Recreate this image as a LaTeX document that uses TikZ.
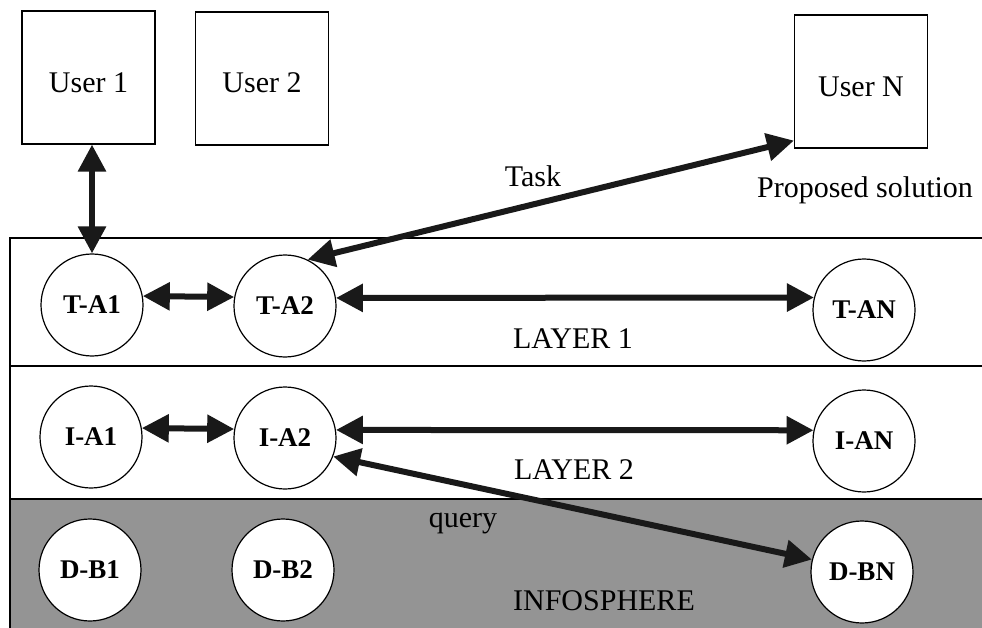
\documentclass[tikz,border=0pt]{standalone}
\usepackage{fontspec}
\setmainfont{Liberation Serif}
\usetikzlibrary{arrows.meta}
\begin{document}
\begin{tikzpicture}[x=1pt,y=-1pt,
  userbox/.style={draw, line width=1.2pt, minimum width=133pt, minimum height=133pt, inner sep=0pt},
  agent/.style={circle, draw, line width=1.2pt, fill=white, minimum size=102pt, inner sep=0pt,
                font=\fontsize{27}{27}\selectfont\bfseries},
  txt/.style={anchor=base, inner sep=0pt, font=\fontsize{30}{30}\selectfont},
  link/.style={line width=6pt, draw=black!90,
               {Triangle[length=27pt,width=27pt]}-{Triangle[length=27pt,width=27pt]}},
  band/.style={line width=1.2pt}
]
\useasboundingbox (0,0) rectangle (982,628);
\fill[white] (0,0) rectangle (982,628);

% infosphere background
\fill[black!42] (10,499) rectangle (982,628);

% layer bands
\draw[band] (982,238) -- (10,238) -- (10,628);
\draw[band] (10,366) -- (982,366);
\draw[band] (10,499) -- (982,499);

% users
\node[userbox] (u1) at (88.5,77.5) {};
\node[userbox] (u2) at (262,78.5) {};
\node[userbox] (un) at (861,81.5) {};
\node[txt] (u1t) at (88.5,93) {User 1};
\node[txt] (u2t) at (262,93) {User 2};
\node[txt] (unt) at (861,97) {User N};

% agents and databases
\node[agent] (ta1) at (92,305) {T-A1};
\node[agent] (ta2) at (285,306) {T-A2};
\node[agent] (tan) at (864,310) {T-AN};
\node[agent] (ia1) at (91,437) {I-A1};
\node[agent] (ia2) at (285,438) {I-A2};
\node[agent] (ian) at (864,441) {I-AN};
\node[agent] (db1) at (90,570) {D-B1};
\node[agent] (db2) at (283,570) {D-B2};
\node[agent] (dbn) at (862,572) {D-BN};

% labels
\node[txt] (task) at (533,187) {Task};
\node[txt] (prop) at (865,198) {Proposed solution};
\node[txt] (l1) at (573,348) {LAYER 1};
\node[txt] (l2) at (574,479) {LAYER 2};
\node[txt] (qry) at (463,527) {query};
\node[txt] (info) at (604,610) {INFOSPHERE};

% connectors
\draw[link] (ta1.north |- u1.south) -- (ta1.north);
\draw[link] (ta1.10) -- (ta2.170);
\draw[link] (ta2.9) -- (tan.166);
\draw[link] (ta2.64) -- ([yshift=8pt]un.south west);
\draw[link] (ia1.10) -- (ia2.170);
\draw[link] (ia2.9) -- (ian.168);
\draw[link] (ia2.-21) -- (dbn.166);
\end{tikzpicture}
\end{document}
